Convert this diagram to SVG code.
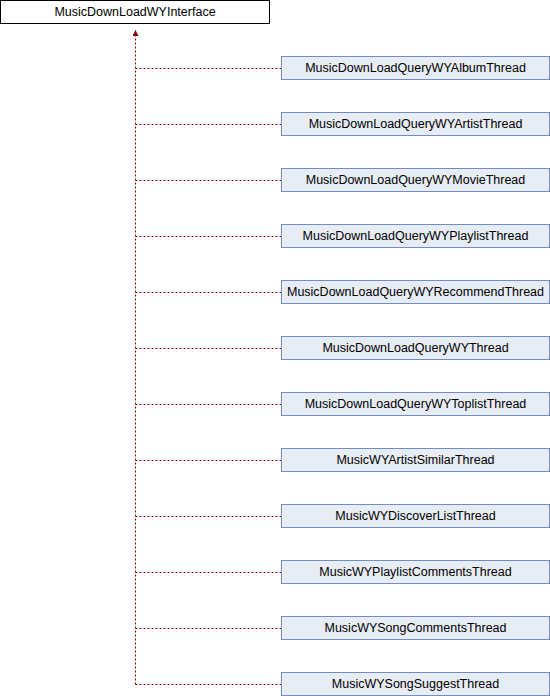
<svg xmlns="http://www.w3.org/2000/svg" width="550" height="696" viewBox="0 0 550 696">
<style>
.n rect{fill:#e8ecf5;stroke:#6f8dc6;stroke-width:1}
.b rect{fill:#ffffff;stroke:#000000;stroke-width:1}
text{font-family:"Liberation Sans",Arial,sans-serif;font-size:12.5px;fill:#000;text-anchor:middle}
.e{fill:none;stroke:#8b0000;stroke-width:1;stroke-dasharray:2,2}
</style>
<defs>
<marker id="ah" viewBox="0 0 10 10" refX="10" refY="5" markerWidth="6" markerHeight="6" orient="auto" markerUnits="userSpaceOnUse">
<path d="M0,0 L10,5 L0,10 z" fill="#8b0000"/>
</marker>
</defs>
<g id="edges">
<path class="e" d="M135.5,684.5 V30" marker-end="url(#ah)"/>
<path class="e" d="M135.5,68.5 H281"/>
<path class="e" d="M135.5,124.5 H281"/>
<path class="e" d="M135.5,180.5 H281"/>
<path class="e" d="M135.5,236.5 H281"/>
<path class="e" d="M135.5,292.5 H281"/>
<path class="e" d="M135.5,348.5 H281"/>
<path class="e" d="M135.5,404.5 H281"/>
<path class="e" d="M135.5,460.5 H281"/>
<path class="e" d="M135.5,516.5 H281"/>
<path class="e" d="M135.5,572.5 H281"/>
<path class="e" d="M135.5,628.5 H281"/>
<path class="e" d="M135.5,684.5 H281"/>
</g>
<g id="MusicDownLoadWYInterface" class="b"><rect x="0.5" y="0.5" width="269" height="23"/><text x="135" y="16">MusicDownLoadWYInterface</text></g>
<g id="AlbumThread" class="n"><rect x="281.5" y="56.5" width="268" height="23"/><text x="415.5" y="72">MusicDownLoadQueryWYAlbumThread</text></g>
<g id="ArtistThread" class="n"><rect x="281.5" y="112.5" width="268" height="23"/><text x="415.5" y="128">MusicDownLoadQueryWYArtistThread</text></g>
<g id="MovieThread" class="n"><rect x="281.5" y="168.5" width="268" height="23"/><text x="415.5" y="184">MusicDownLoadQueryWYMovieThread</text></g>
<g id="PlaylistThread" class="n"><rect x="281.5" y="224.5" width="268" height="23"/><text x="415.5" y="240">MusicDownLoadQueryWYPlaylistThread</text></g>
<g id="RecommendThread" class="n"><rect x="281.5" y="280.5" width="268" height="23"/><text x="415.5" y="296">MusicDownLoadQueryWYRecommendThread</text></g>
<g id="QueryThread" class="n"><rect x="281.5" y="336.5" width="268" height="23"/><text x="415.5" y="352">MusicDownLoadQueryWYThread</text></g>
<g id="ToplistThread" class="n"><rect x="281.5" y="392.5" width="268" height="23"/><text x="415.5" y="408">MusicDownLoadQueryWYToplistThread</text></g>
<g id="ArtistSimilarThread" class="n"><rect x="281.5" y="448.5" width="268" height="23"/><text x="415.5" y="464">MusicWYArtistSimilarThread</text></g>
<g id="DiscoverListThread" class="n"><rect x="281.5" y="504.5" width="268" height="23"/><text x="415.5" y="520">MusicWYDiscoverListThread</text></g>
<g id="PlaylistCommentsThread" class="n"><rect x="281.5" y="560.5" width="268" height="23"/><text x="415.5" y="576">MusicWYPlaylistCommentsThread</text></g>
<g id="SongCommentsThread" class="n"><rect x="281.5" y="616.5" width="268" height="23"/><text x="415.5" y="632">MusicWYSongCommentsThread</text></g>
<g id="SongSuggestThread" class="n"><rect x="281.5" y="672.5" width="268" height="23"/><text x="415.5" y="688">MusicWYSongSuggestThread</text></g>
</svg>
